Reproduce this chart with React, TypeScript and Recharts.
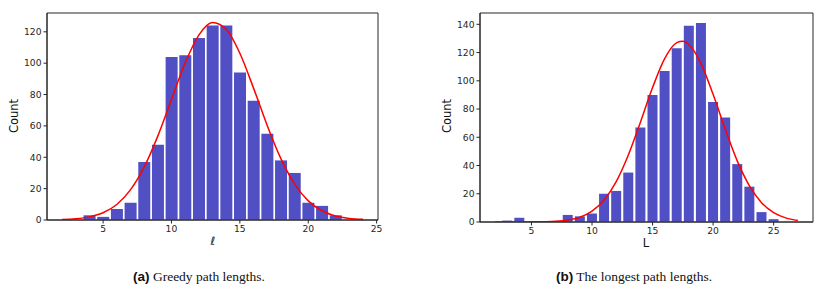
import { Bar, ComposedChart, Line, ReferenceArea, XAxis, YAxis } from "recharts";

// (a) greedy path lengths
const greedyX = [2, 3, 4, 5, 6, 7, 8, 9, 10, 11, 12, 13, 14, 15, 16, 17, 18, 19, 20, 21, 22, 23, 24];
const greedyCount = [null, null, 3, 2, 7, 11, 37, 48, 104, 105, 116, 124, 124, 94, 76, 55, 38, 30, 11, 9, 3, null, null];
const greedyFitX = [2, 3, 4, 5, 6, 7, 8, 9, 10, 11, 12, 13, 14, 15, 16, 17, 18, 19, 20, 21, 22, 23, 24];
const greedyFit = [0.3, 0.8, 2, 4.6, 9.9, 19.2, 33.7, 53.5, 76.9, 100.1, 117.9, 125.9, 121.6, 106.3, 84.1, 60.3, 39.1, 23, 12.2, 5.9, 2.6, 1, 0.4];

// (b) longest path lengths
const longestX = [2, 3, 4, 5, 6, 7, 8, 9, 10, 11, 12, 13, 14, 15, 16, 17, 18, 19, 20, 21, 22, 23, 24, 25, 26, 27];
const longestCount = [null, 1, 3, 0, 0, 0, 5, 4, 6, 20, 22, 35, 67, 90, 107, 123, 139, 141, 85, 74, 41, 25, 7, 2, null, null];
const longestFitX = [2, 3, 4, 5, 6, 7, 8, 9, 10, 11, 12, 13, 14, 15, 16, 17, 17.5, 18, 19, 20, 21, 22, 23, 24, 25, 26, 27];
const longestFit = [0, 0, 0, 0.1, 0.2, 0.5, 1.4, 3.4, 7.7, 15.6, 28.6, 47.4, 70.7, 95.2, 115.7, 127, 128, 125.7, 112.2, 90.4, 65.8, 43.1, 25.6, 13.7, 6.6, 2.9, 1.1];

const xTicks = [5, 10, 15, 20, 25];
const greedyYTicks = [0, 20, 40, 60, 80, 100, 120];
const longestYTicks = [0, 20, 40, 60, 80, 100, 120, 140];

const greedyBars = greedyX.map((x, i) => ({ x, count: greedyCount[i] }));
const greedyCurve = greedyFitX.map((x, i) => ({ x, fit: greedyFit[i] }));
const longestBars = longestX.map((x, i) => ({ x, count: longestCount[i] }));
const longestCurve = longestFitX.map((x, i) => ({ x, fit: longestFit[i] }));

const barColor = "#504fc3";
const axisColor = "#262626";
const tickStyle = { fontFamily: "DejaVu Sans", fontSize: 9.2, fill: axisColor };

function AxisText({ lx, ly, txt, rot }: any) {
  return (
    <text
      x={lx}
      y={ly}
      textAnchor="middle"
      dominantBaseline="central"
      transform={rot ? `rotate(-90 ${lx} ${ly})` : undefined}
      fontFamily="DejaVu Sans"
      fontSize={11.5}
      fill="#111"
    >
      {txt}
    </text>
  );
}

function Hist({ bars, curve, xDomain, yDomain, yTicks, width, height, margin, yWidth, barSize, xLabel, xLabelPos, countX }: any) {
  return (
    <ComposedChart width={width} height={height} data={bars} margin={margin}>
      <XAxis
        dataKey="x"
        type="number"
        domain={xDomain}
        ticks={xTicks}
        allowDataOverflow
        height={30}
        tickSize={3.5}
        tickMargin={2}
        tick={tickStyle}
        stroke={axisColor}
        label={<AxisText lx={xLabelPos[0]} ly={xLabelPos[1]} txt={xLabel} />}
      />
      {/* hidden twin axis so the curve's extra points don't shrink the bar band */}
      <XAxis xAxisId="curve" dataKey="x" type="number" domain={xDomain} allowDataOverflow hide />
      <YAxis
        type="number"
        domain={yDomain}
        ticks={yTicks}
        allowDataOverflow
        width={yWidth}
        tickSize={3.5}
        tickMargin={2}
        tick={tickStyle}
        stroke={axisColor}
        label={<AxisText lx={countX} ly={116} txt="Count" rot />}
      />
      <Bar dataKey="count" fill={barColor} barSize={barSize} isAnimationActive={false} />
      <Line
        xAxisId="curve"
        data={curve}
        dataKey="fit"
        type="monotone"
        stroke="#ff0000"
        strokeWidth={1.5}
        dot={false}
        isAnimationActive={false}
      />
      <ReferenceArea
        x1={xDomain[0]}
        x2={xDomain[1]}
        y1={yDomain[0]}
        y2={yDomain[1]}
        fill="none"
        stroke={axisColor}
        strokeWidth={1}
        fillOpacity={0}
        strokeOpacity={1}
      />
    </ComposedChart>
  );
}

const captionStyle: any = {
  position: "absolute",
  top: 269,
  width: 300,
  textAlign: "center",
  fontFamily: "Liberation Serif",
  fontSize: 13.5,
  color: "#111",
};
const capTag = { fontFamily: "Liberation Sans", fontWeight: 700 };

export default function App() {
  return (
    <div style={{ position: "relative", width: 830, height: 294, background: "#fff", overflow: "hidden" }}>
      <style>{"body{margin:0}"}</style>
      <div style={{ position: "absolute", left: 0, top: 0 }}>
        <Hist
          bars={greedyBars}
          curve={greedyCurve}
          xDomain={[0.9, 25.1]}
          yDomain={[0, 132]}
          yTicks={greedyYTicks}
          width={400}
          height={250}
          margin={{ top: 13, right: 22, left: 0, bottom: 0 }}
          yWidth={47}
          barSize={12}
          xLabel="ℓ"
          xLabelPos={[213, 241]}
          countX={14}
        />
      </div>
      <div style={{ position: "absolute", left: 410, top: 0 }}>
        <Hist
          bars={longestBars}
          curve={longestCurve}
          xDomain={[0.75, 28.25]}
          yDomain={[0, 148]}
          yTicks={longestYTicks}
          width={420}
          height={252}
          margin={{ top: 13, right: 17, left: 0, bottom: 0 }}
          yWidth={70}
          barSize={10}
          xLabel="L"
          xLabelPos={[236, 243]}
          countX={37}
        />
      </div>
      <div style={{ ...captionStyle, left: 49 }}>
        <span style={capTag}>(a)</span> Greedy path lengths.
      </div>
      <div style={{ ...captionStyle, left: 484 }}>
        <span style={capTag}>(b)</span> The longest path lengths.
      </div>
    </div>
  );
}
